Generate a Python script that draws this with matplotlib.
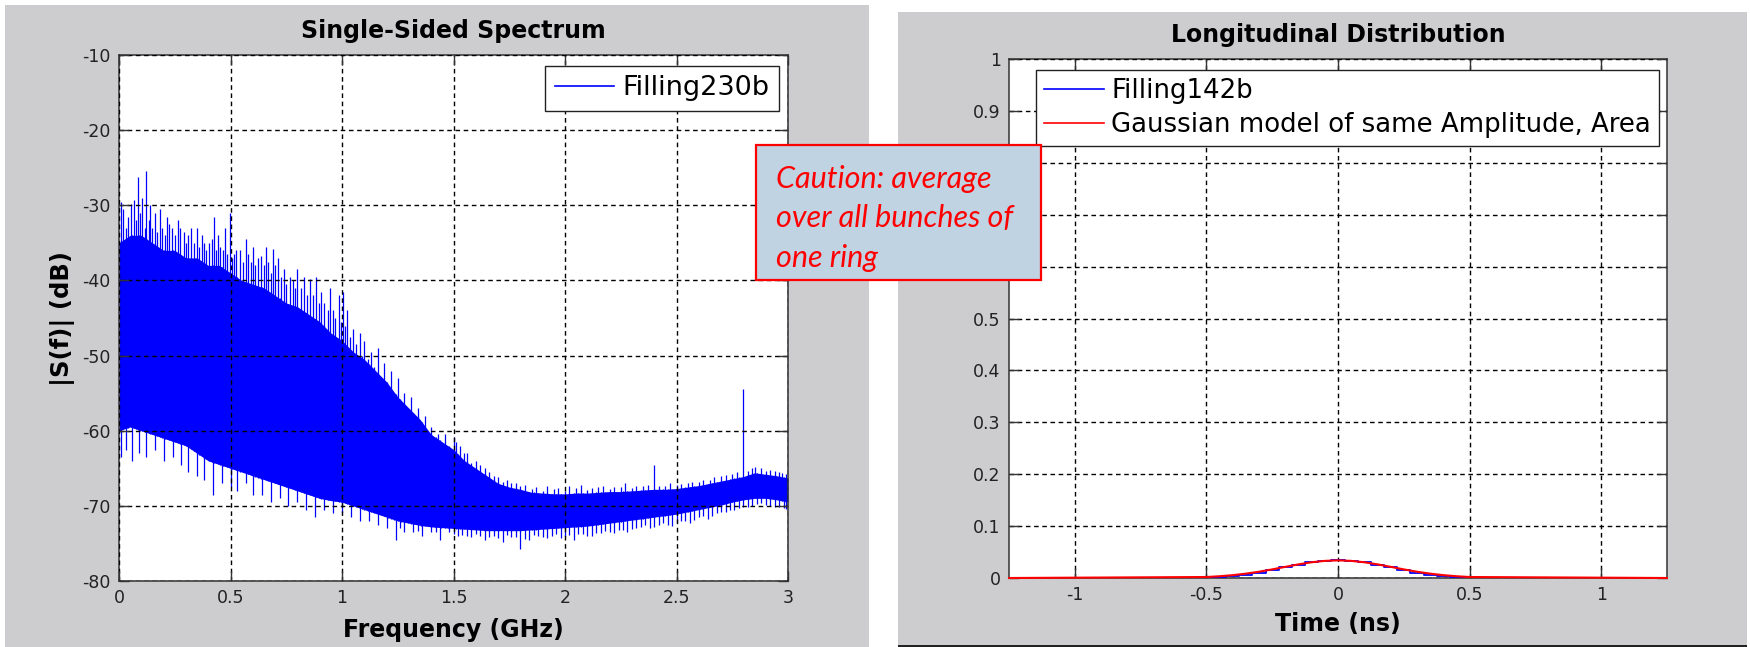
import numpy as np
import matplotlib
matplotlib.use("Agg")
import matplotlib.pyplot as plt
from matplotlib.patches import Rectangle
from matplotlib.lines import Line2D
from matplotlib.ticker import FormatStrFormatter

plt.rcParams['axes.unicode_minus'] = False
plt.rcParams['font.family'] = ['DejaVu Sans']

# ---- spectrum (left): band of the trace, spikes above it, dips below it ----
freq_ghz = [0.00, 0.05, 0.10, 0.15, 0.20, 0.25, 0.30, 0.35, 0.40, 0.45,
            0.50, 0.55, 0.60, 0.65, 0.70, 0.75, 0.80, 0.85, 0.90, 0.95,
            1.00, 1.05, 1.10, 1.15, 1.20, 1.25, 1.30, 1.35, 1.40, 1.45,
            1.50, 1.55, 1.60, 1.65, 1.70, 1.75, 1.80, 1.85, 1.90, 1.95,
            2.00, 2.05, 2.10, 2.15, 2.20, 2.25, 2.30, 2.35, 2.40, 2.45,
            2.50, 2.55, 2.60, 2.65, 2.70, 2.75, 2.80, 2.85, 2.90, 2.95, 3.00]
band_top_db = [-35, -34, -34, -35, -36, -36, -37, -37, -38, -38,
               -39, -40, -40.5, -41, -42, -43, -43.5, -44.5, -45.5, -47,
               -48, -49.5, -50.5, -52, -53.5, -55.5, -57, -58.5, -60.5, -61.5,
               -62.5, -64, -65, -66, -67, -67.5, -67.8, -68.2, -68.3, -68.4,
               -68.4, -68.3, -68.3, -68.2, -68.1, -68.1, -68, -67.9, -67.8, -67.8,
               -67.7, -67.5, -67.3, -67, -66.7, -66.4, -66.1, -65.6, -65.8, -66, -66.3]
band_bottom_db = [-60, -59.5, -60, -60.5, -61, -61.5, -62, -63, -64, -64.5,
                  -65, -65.5, -66, -66.5, -67, -67.5, -68, -68.5, -69, -69.3,
                  -69.5, -70, -70.5, -71, -71.5, -72, -72.3, -72.6, -72.8, -72.9,
                  -73, -73.1, -73.2, -73.3, -73.3, -73.3, -73.3, -73.2, -73.1, -73,
                  -72.9, -72.8, -72.7, -72.5, -72.3, -72.1, -71.9, -71.7, -71.5, -71.3,
                  -71.1, -70.8, -70.5, -70.2, -69.9, -69.5, -69.2, -69, -69, -69.2, -69.5]

spike_ghz = [0.008, 0.02, 0.03, 0.039, 0.054, 0.067, 0.075, 0.085, 0.095, 0.105,
             0.115, 0.123, 0.133, 0.141, 0.15, 0.162, 0.172, 0.183, 0.195, 0.205,
             0.214, 0.225, 0.239, 0.25, 0.265, 0.275, 0.291, 0.3, 0.31, 0.324,
             0.335, 0.35, 0.36, 0.37, 0.381, 0.39, 0.405, 0.415, 0.424, 0.435,
             0.445, 0.455, 0.465, 0.476, 0.485, 0.497, 0.505, 0.515, 0.525, 0.543,
             0.555, 0.569, 0.58, 0.59, 0.6, 0.61, 0.625, 0.638, 0.648, 0.659,
             0.67, 0.68, 0.689, 0.7, 0.715, 0.725, 0.741, 0.75, 0.767, 0.78,
             0.79, 0.8, 0.815, 0.831, 0.845, 0.857, 0.87, 0.882, 0.895, 0.908,
             0.92, 0.935, 0.947, 0.96, 0.97, 0.985, 0.995, 1.003, 1.015, 1.024,
             1.035, 1.05, 1.065, 1.08, 1.09, 1.1, 1.115, 1.13, 1.145, 1.16,
             1.175, 1.19, 1.205, 1.22, 1.235, 1.25, 1.265, 1.28, 1.295, 1.31,
             1.325, 1.34, 1.355, 1.37, 1.385, 1.4, 1.415, 1.43, 1.445, 1.46,
             1.475, 1.5, 1.53, 1.56, 1.6, 1.64, 1.68, 1.72, 1.76, 1.8,
             1.85, 1.9, 1.95, 2.0, 2.05, 2.1, 2.15, 2.2, 2.25, 2.3,
             2.35, 2.4, 2.45, 2.5, 2.55, 2.6, 2.65, 2.7, 2.75, 2.8,
             2.82, 2.85, 2.88, 2.92, 2.96, 2.99,
             1.51, 1.545, 1.58, 1.62, 1.66, 1.7, 1.74, 1.78, 1.82, 1.87,
             1.92, 1.97, 2.02, 2.07, 2.12, 2.17, 2.22, 2.27, 2.32, 2.37,
             2.42, 2.47, 2.52, 2.57, 2.62, 2.67, 2.72, 2.77, 2.84, 2.9, 2.94, 2.975]
spike_db = [-29.5, -30.5, -33, -31.5, -29.8, -29.3, -32, -26.2, -31, -29,
            -33, -25.5, -32, -30, -33, -31, -33.5, -30.5, -33, -34,
            -31.5, -32.5, -33, -34, -32, -33, -33.5, -35, -34, -33,
            -35, -33, -35.5, -34, -35, -36, -35, -34.5, -31.5, -36,
            -34, -35.5, -36, -33, -36.5, -31, -37, -36.5, -36, -36,
            -37.5, -34.5, -36.5, -37.5, -35.5, -38, -37, -36.8, -38, -35.5,
            -37.5, -39, -35.8, -38, -37, -39.5, -38.5, -40.5, -39.5, -40,
            -41, -38.5, -41, -39.5, -42, -39.8, -42, -39.6, -43, -41.5,
            -43, -44, -41, -44, -45, -42, -45.5, -41.5, -46, -44,
            -47.5, -46.5, -48.5, -47, -50, -48, -50.5, -49.5, -51.5, -49,
            -53, -51, -54, -52, -55.5, -53, -56.5, -55, -58, -55.5,
            -59, -57, -60, -58, -61.5, -59.5, -62, -60.4, -62.5, -60.5,
            -63.5, -60.8, -62, -63, -64, -65, -66, -66.8, -67, -67.3,
            -67.8, -68, -67.8, -68, -67.6, -67.9, -67.5, -67.8, -67.5, -67.6,
            -67.3, -64.5, -67.4, -67.2, -67, -66.8, -66.5, -66, -65.8, -54.5,
            -65.3, -64.8, -65, -65.2, -65.5, -65.8,
            -61.5, -63, -64.3, -64.5, -65.5, -66.2, -66.5, -67, -67.2, -67.5,
            -67.3, -67.6, -67.4, -67.2, -67.6, -67.3, -67.5, -67, -67.3, -67.2,
            -67.4, -67, -67.1, -66.8, -66.6, -66.2, -65.9, -65.5, -65, -65.3, -65.4, -65.6]

dip_ghz = [0.01, 0.03, 0.06, 0.09, 0.12, 0.16, 0.2, 0.24, 0.28, 0.31,
           0.35, 0.38, 0.42, 0.46, 0.5, 0.53, 0.57, 0.6, 0.64, 0.68,
           0.72, 0.76, 0.8, 0.84, 0.88, 0.92, 0.96, 1.0, 1.04, 1.08,
           1.12, 1.16, 1.2, 1.24, 1.28, 1.32, 1.36, 1.4, 1.44, 1.48,
           1.52, 1.56, 1.6, 1.64, 1.68, 1.72, 1.76, 1.8, 1.84, 1.88,
           1.92, 1.96, 2.0, 2.04, 2.08, 2.12, 2.16, 2.2, 2.24, 2.28,
           2.32, 2.36, 2.4, 2.44, 2.48, 2.52, 2.56, 2.6, 2.64, 2.68,
           2.72, 2.76, 2.8, 2.84, 2.88, 2.92, 2.96, 2.99,
           1.26, 1.34, 1.42, 1.5, 1.54, 1.58, 1.62, 1.66, 1.7, 1.74,
           1.78, 1.82, 1.86, 1.9, 1.94, 1.98, 2.02, 2.06, 2.1, 2.14,
           2.18, 2.22, 2.26, 2.3, 2.34, 2.38, 2.42, 2.46, 2.5, 2.54,
           2.58, 2.62, 2.66, 2.7, 2.74, 2.78, 2.82, 2.86, 2.9, 2.94, 2.98]
dip_db = [-63.5, -62.5, -64, -63, -63.5, -62.5, -64, -63.5, -64.5, -65.5,
          -66, -66.5, -68.5, -67, -67.5, -68, -67, -68.5, -68.5, -69.5,
          -69, -70, -69.5, -70.5, -71.5, -70.5, -71, -71, -71.5, -72,
          -72, -72.5, -73, -74.5, -73.5, -73.5, -74, -73.5, -74.5, -73.5,
          -74, -74, -73.8, -74.5, -74, -74.8, -74.2, -75.7, -74.5, -74,
          -74.3, -73.8, -74, -74.5, -73.7, -74, -73.6, -73.5, -73.2, -73.5,
          -73, -72.6, -72.8, -72.3, -72.7, -72, -72.3, -71.5, -71.7, -71,
          -70.8, -70.5, -70.2, -70, -69.6, -70, -70.2, -70.4,
          -73, -73.3, -73.5, -73.8, -73.9, -74.2, -74, -74.1, -74.3, -73.9,
          -74.1, -74.4, -73.9, -74.2, -74, -74.3, -73.9, -73.8, -74, -73.6,
          -73.4, -73.6, -73.2, -73.1, -72.8, -72.9, -72.5, -72.6, -72.3, -72,
          -71.9, -71.4, -71.3, -70.8, -70.5, -70.3, -70.1, -69.8, -69.9, -70.1, -70.3]

# ---- longitudinal distribution (right) ----
time_ns = [-1.25, -0.5, -0.45, -0.4, -0.35, -0.3, -0.25, -0.2, -0.15, -0.1, -0.05,
           0.0, 0.05, 0.1, 0.15, 0.2, 0.25, 0.3, 0.35, 0.4, 0.45, 0.5, 1.25]
filling142b = [0.0, 0.0, 0.001, 0.003, 0.006, 0.010, 0.015, 0.021, 0.026, 0.030, 0.033,
               0.034, 0.033, 0.030, 0.026, 0.021, 0.015, 0.010, 0.006, 0.003, 0.001, 0.0, 0.0]
gauss_model = [0.0, 0.0019, 0.0034, 0.0055, 0.0084, 0.0121, 0.0166, 0.0215, 0.0263, 0.0303, 0.033,
               0.034, 0.033, 0.0303, 0.0263, 0.0215, 0.0166, 0.0121, 0.0084, 0.0055, 0.0034, 0.0019, 0.0]
# y labels that sit under the note box are left blank
prof_yticks = [0, 0.1, 0.2, 0.3, 0.4, 0.5, 0.6, 0.7, 0.8, 0.9, 1]
prof_ylabels = ['0', '0.1', '0.2', '0.3', '0.4', '0.5', '', '', '', '0.9', '1']

W, H = 1750, 647
GRAY = '#cdcccf'
BLUE = '#0000ff'


def fx(px):
    return px / W


def fy(py):
    return 1 - py / H


fig = plt.figure(figsize=(W / 100, H / 100), dpi=100, facecolor='white')

# gray panel backgrounds
fig.patches.append(Rectangle((fx(5), 0), fx(864), 1 - 5 / H, transform=fig.transFigure,
                             facecolor=GRAY, edgecolor='none', zorder=-10))
fig.patches.append(Rectangle((fx(898), 2 / H), fx(849), 633 / H, transform=fig.transFigure,
                             facecolor=GRAY, edgecolor='none', zorder=-10))
fig.patches.append(Rectangle((fx(898), 0), fx(849), 2 / H, transform=fig.transFigure,
                             facecolor='#222222', edgecolor='none', zorder=-9))

ax1 = fig.add_axes([fx(119), fy(581), fx(788 - 119), (581 - 55) / H])
ax2 = fig.add_axes([fx(1009), fy(578), fx(1667 - 1009), (578 - 59) / H])


def style(ax):
    ax.set_facecolor('white')
    for s in ax.spines.values():
        s.set_linewidth(1.1)
        s.set_color('#333333')
    ax.tick_params(direction='in', length=7, width=1, top=True, right=True,
                   labelsize=12.5, colors='#333333', labelcolor='#222222', pad=6)
    ax.grid(True, color='black', linestyle=(0, (3.3, 2.6)), linewidth=1.0)
    ax.set_axisbelow(False)


# left: spectrum
ax1.fill_between(freq_ghz, band_bottom_db, band_top_db, color=BLUE, lw=0, zorder=2)
spk_base = np.interp(spike_ghz, freq_ghz, band_bottom_db)
ax1.vlines(spike_ghz, spk_base, spike_db, color=BLUE, lw=0.9, zorder=2)
dip_base = np.interp(dip_ghz, freq_ghz, band_top_db)
ax1.vlines(dip_ghz, dip_db, dip_base, color=BLUE, lw=0.9, zorder=2)
ax1.set_xlim(0, 3)
ax1.set_ylim(-80, -10)
ax1.set_xticks(np.arange(0, 3.01, 0.5))
ax1.set_yticks(np.arange(-80, -9, 10))
ax1.xaxis.set_major_formatter(FormatStrFormatter('%g'))
style(ax1)
ax1.legend([Line2D([], [], color=BLUE, lw=1.2)], ['Filling230b'],
           loc='upper right', bbox_to_anchor=(fx(779), fy(66)), bbox_transform=fig.transFigure,
           borderaxespad=0, fontsize=19.5, fancybox=False, framealpha=1, edgecolor='#222222',
           handlelength=2.2, handletextpad=0.3, borderpad=0.35)

# right: bunch profile
ax2.plot(time_ns, filling142b, color=BLUE, lw=1.3, drawstyle='steps-mid', label='Filling142b', zorder=3)
ax2.plot(time_ns, gauss_model, color='#ff0000', lw=1.5, label='Gaussian model of same Amplitude, Area',
         zorder=4, clip_on=False)
ax2.set_xlim(-1.25, 1.25)
ax2.set_ylim(0, 1)
ax2.set_xticks([-1, -0.5, 0, 0.5, 1])
ax2.xaxis.set_major_formatter(FormatStrFormatter('%g'))
ax2.set_yticks(prof_yticks)
ax2.set_yticklabels(prof_ylabels)
style(ax2)
leg2 = ax2.legend(loc='upper right', bbox_to_anchor=(fx(1659), fy(70)), bbox_transform=fig.transFigure,
                  borderaxespad=0, fontsize=18.7, fancybox=False, framealpha=1, edgecolor='#222222',
                  handlelength=2.3, handletextpad=0.3, borderpad=0.3, labelspacing=0.32)
for h in leg2.get_lines():
    h.set_linewidth(1.2)

# titles and axis labels
fig.text(fx(453), fy(31), 'Single-Sided Spectrum', ha='center', va='center', fontsize=17, fontweight='bold')
fig.text(fx(453), fy(630), 'Frequency (GHz)', ha='center', va='center', fontsize=17, fontweight='bold')
fig.text(fx(63), fy(318), '|S(f)| (dB)', ha='center', va='center', rotation=90, fontsize=17.5, fontweight='bold')
fig.text(fx(1338), fy(35), 'Longitudinal Distribution', ha='center', va='center', fontsize=17, fontweight='bold')
fig.text(fx(1338), fy(624), 'Time (ns)', ha='center', va='center', fontsize=17, fontweight='bold')

# note box
fig.patches.append(Rectangle((fx(756), fy(280)), fx(1041 - 756), (280 - 145) / H, transform=fig.transFigure,
                             facecolor='#c0d3e3', edgecolor='#ff0000', linewidth=1.6, zorder=10))
fig.text(fx(776), fy(165), 'Caution: average\nover all bunches of\none ring', ha='left', va='top',
         fontsize=22, family=['Lato', 'DejaVu Sans'], style='italic', color='#ff0000',
         linespacing=1.5, zorder=11)

fig.savefig('out.png', dpi=100, facecolor='white')
